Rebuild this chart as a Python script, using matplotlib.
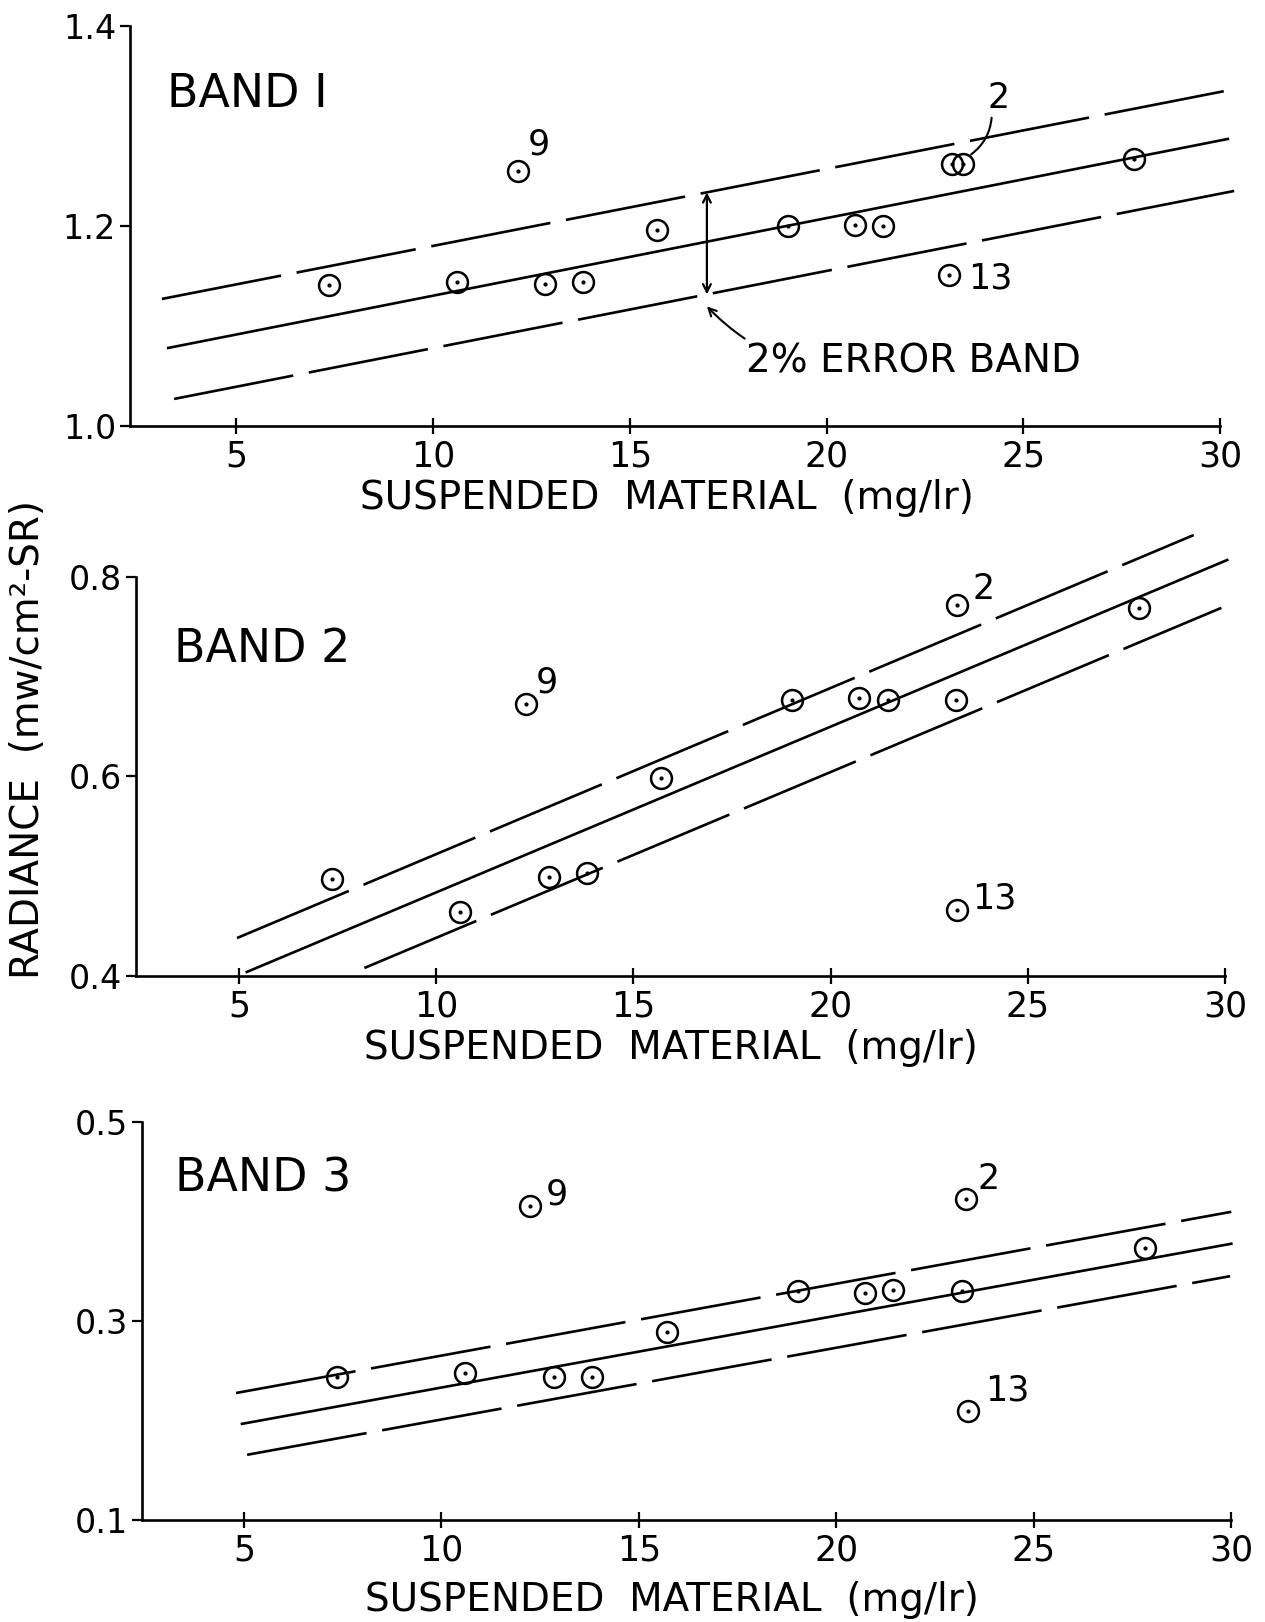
import matplotlib
matplotlib.use("Agg")
import matplotlib.pyplot as plt

plt.rcParams['font.family'] = ['DejaVu Sans']

# ---- data ----
sample_x = [7.35, 10.6, 12.85, 13.82, 15.7, 19.02, 20.72, 21.44, 23.18, 27.82]

band1_y = [1.141, 1.144, 1.142, 1.144, 1.196, 1.200, 1.201, 1.200, 1.262, 1.267]
band2_y = [0.497, 0.464, 0.499, 0.503, 0.598, 0.677, 0.679, 0.677, 0.677, 0.769]
band3_y = [0.244, 0.248, 0.244, 0.244, 0.289, 0.330, 0.328, 0.331, 0.330, 0.373]

# outlier stations 9, 2, 13
outlier_names = ["9", "2", "13"]
band1_out_x = [12.17, 23.47, 23.12]
band1_out_y = [1.255, 1.262, 1.151]
band2_out_x = [12.27, 23.2, 23.2]
band2_out_y = [0.673, 0.772, 0.466]
band3_out_x = [12.25, 23.29, 23.34]
band3_out_y = [0.4155, 0.423, 0.210]

# regression line and 2% error band end points
band1_fit = [[3.27, 30.2], [1.078, 1.287]]
band1_up = [[3.11, 30.26], [1.127, 1.336]]
band1_lo = [[3.42, 30.36], [1.027, 1.235]]
band2_fit = [[5.2, 30.05], [0.404, 0.817]]
band2_up = [[4.95, 29.2], [0.438, 0.842]]
band2_lo = [[8.18, 29.9], [0.408, 0.769]]
band3_fit = [[4.95, 30.0], [0.1966, 0.3776]]
band3_up = [[4.8, 30.0], [0.2276, 0.4097]]
band3_lo = [[5.08, 29.97], [0.1655, 0.345]]

x_ticks = [5, 10, 15, 20, 25, 30]
band1_yticks = [1.0, 1.2, 1.4]
band2_yticks = [0.4, 0.6, 0.8]
band3_yticks = [0.1, 0.3, 0.5]
band1_ylabels = ["1.0", "1.2", "1.4"]
band2_ylabels = ["0.4", "0.6", "0.8"]
band3_ylabels = ["0.1", "0.3", "0.5"]

titles = ["BAND I", "BAND 2", "BAND 3"]
xlabel = "SUSPENDED  MATERIAL  (mg/lr)"
ylabel = "RADIANCE  (mw/cm²-SR)"

fig = plt.figure(figsize=(12.65, 16.22), dpi=100)

ax1 = fig.add_axes([0.1028, 0.7374, 0.8803, 0.2466])
ax2 = fig.add_axes([0.1075, 0.3983, 0.8798, 0.2460])
ax3 = fig.add_axes([0.1123, 0.0629, 0.8798, 0.2454])

panels = [
    (ax1, band1_y, band1_out_x, band1_out_y, band1_fit, band1_up, band1_lo,
     band1_yticks, band1_ylabels, (2.3, 30.6)),
    (ax2, band2_y, band2_out_x, band2_out_y, band2_fit, band2_up, band2_lo,
     band2_yticks, band2_ylabels, (2.39, 30.6)),
    (ax3, band3_y, band3_out_x, band3_out_y, band3_fit, band3_up, band3_lo,
     band3_yticks, band3_ylabels, (2.42, 30.6)),
]

for ax, ys, ox, oy, fit, up, lo, yt, ytl, xl in panels:
    ax.plot(fit[0], fit[1], color='black', lw=1.9, clip_on=False)
    ax.plot(up[0], up[1], color='black', lw=1.9, dashes=(46, 6), clip_on=False)
    ax.plot(lo[0], lo[1], color='black', lw=1.9, dashes=(46, 6), clip_on=False)

    allx = sample_x + ox
    ally = ys + oy
    ax.plot(allx, ally, 'o', mfc='none', mec='black', ms=15, mew=1.8, zorder=3)
    ax.plot(allx, ally, '.', color='black', ms=4, zorder=4)

    ax.set_xlim(xl)
    ax.set_ylim(yt[0], yt[-1])
    ax.set_xticks(x_ticks)
    ax.set_xticklabels([str(t) for t in x_ticks])
    ax.set_yticks(yt)
    ax.set_yticklabels(ytl)
    ax.spines['top'].set_visible(False)
    ax.spines['right'].set_visible(False)
    ax.spines['left'].set_linewidth(1.9)
    ax.spines['bottom'].set_linewidth(1.9)
    ax.spines['bottom'].set_bounds(xl[0], 30)
    ax.tick_params(axis='x', direction='inout', length=11, width=1.6,
                   labelsize=25, pad=4)
    ax.tick_params(axis='y', direction='out', length=7, width=1.6,
                   labelsize=24, pad=3)

# panel titles
ax1.text(3.25, 1.331, titles[0], fontsize=33, va='center', ha='left')
ax2.text(3.35, 0.727, titles[1], fontsize=33, va='center', ha='left')
ax3.text(3.25, 0.443, titles[2], fontsize=33, va='center', ha='left')

# station labels
ax1.text(12.4, 1.281, outlier_names[0], fontsize=25, va='center')
ax1.text(24.1, 1.328, outlier_names[1], fontsize=25, va='center')
ax1.text(23.6, 1.147, outlier_names[2], fontsize=25, va='center')
ax2.text(12.53, 0.694, outlier_names[0], fontsize=25, va='center')
ax2.text(23.59, 0.788, outlier_names[1], fontsize=25, va='center')
ax2.text(23.59, 0.478, outlier_names[2], fontsize=25, va='center')
ax3.text(12.63, 0.4266, outlier_names[0], fontsize=25, va='center')
ax3.text(23.57, 0.443, outlier_names[1], fontsize=25, va='center')
ax3.text(23.77, 0.2297, outlier_names[2], fontsize=25, va='center')

# leader from "2" to its point in band 1
ax1.annotate('', xy=(23.62, 1.27), xytext=(24.2, 1.311),
             arrowprops=dict(arrowstyle='-', lw=1.5, color='black',
                             connectionstyle='arc3,rad=-0.25'))

# 2% error band marker
xe = 16.96
up_e = band1_up[1][0] + (xe - band1_up[0][0]) * (band1_up[1][1] - band1_up[1][0]) / (band1_up[0][1] - band1_up[0][0])
lo_e = band1_lo[1][0] + (xe - band1_lo[0][0]) * (band1_lo[1][1] - band1_lo[1][0]) / (band1_lo[0][1] - band1_lo[0][0])
ax1.annotate('', xy=(xe, up_e), xytext=(xe, lo_e),
             arrowprops=dict(arrowstyle='<->', lw=1.6, color='black',
                             mutation_scale=14, shrinkA=0, shrinkB=0))
ax1.annotate('2% ERROR BAND', xy=(xe, lo_e - 0.012), xytext=(17.95, 1.064),
             fontsize=28, va='center', ha='left',
             arrowprops=dict(arrowstyle='->', lw=1.5, color='black',
                             mutation_scale=14, shrinkA=2, shrinkB=0,
                             connectionstyle='arc3,rad=-0.3'))

# axis titles
fig.text(0.527, 0.693, xlabel, fontsize=28, ha='center', va='center')
fig.text(0.530, 0.354, xlabel, fontsize=28, ha='center', va='center')
fig.text(0.531, 0.0135, xlabel, fontsize=28, ha='center', va='center')
fig.text(0.022, 0.544, ylabel, fontsize=28, ha='center', va='center',
         rotation=90)

fig.savefig("out.png", dpi=100, facecolor='white')
